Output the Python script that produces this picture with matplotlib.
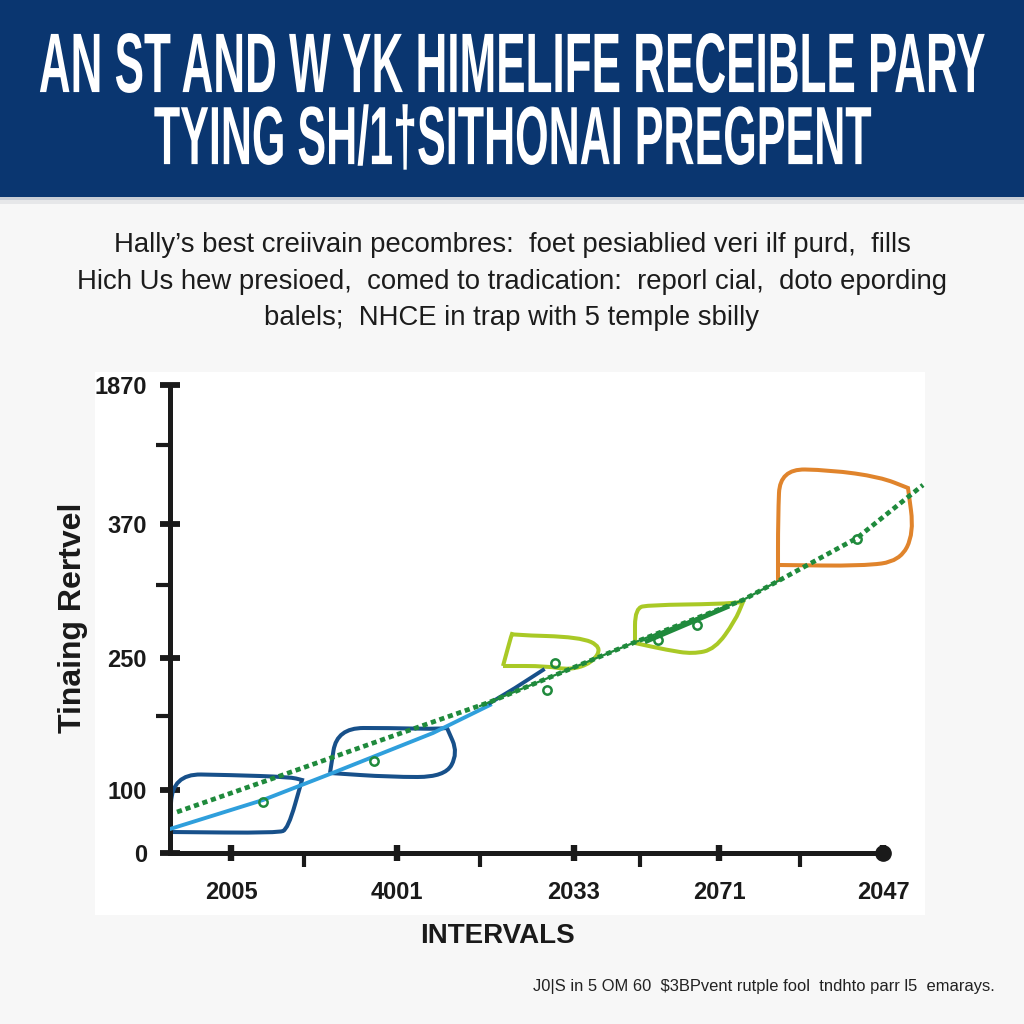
import matplotlib
matplotlib.use("Agg")
import matplotlib.pyplot as plt
from matplotlib.patches import Rectangle, PathPatch
from matplotlib.path import Path
from matplotlib.patheffects import AbstractPathEffect
from matplotlib.transforms import Affine2D

# --- text ---
title_lines = ["AN ST AND W YK HIMELIFE RECEIBLE PARY", "TYING SH/1\u2020SITHONAI PREGPENT"]
sub_lines = ["Hally\u2019s best creiivain pecombres:  foet pesiablied veri ilf purd,  fills",
             "Hich Us hew presioed,  comed to tradication:  reporl cial,  doto epording",
             "balels;  NHCE in trap with 5 temple sbilly"]
footer = "J0|S in 5 OM 60  $3BPvent rutple fool  tndhto parr l5  emarays."
ylabel = "Tinaing Rertvel"
xlabel = "INTERVALS"

# --- axis ticks (the printed labels are not evenly scaled, so positions are read off) ---
y_major = [0, 63, 195, 329, 468]
y_labels = ["0", "100", "250", "370", "1870"]
y_minor = [137, 268, 408]
x_major = [61, 227, 404, 549, 713]
x_labels = ["2005", "4001", "2033", "2071", "2047"]
x_minor = [134, 310, 470, 630]

# --- trend lines ---
dotted_x = [7, 107, 220, 320, 463, 573, 610, 687, 753]
dotted_y = [41, 76, 116, 151, 210, 253, 273, 315, 368]
light_x = [0, 93, 160, 263, 320]
light_y = [24, 53, 79, 120, 148]
dark_x = [320, 345, 373]
dark_y = [150, 165, 183]
solid_x = [477, 557]
solid_y = [212, 246]
under_x = [310, 463, 573, 610]
under_y = [147, 210, 253, 273]

# --- small open markers ---
mark_x = [93, 204, 377, 385, 488, 527, 687]
mark_y = [51, 92, 163, 190, 213, 228, 314]

# --- blobs around each interval, repeated points make a corner ---
blob1_x = [0, 0, 2, 60, 120, 132, 132, 118, 108, 0, 0]
blob1_y = [21, 21, 79, 78, 76, 73, 73, 24, 20, 21, 21]
blob2_x = [160, 160, 167, 220, 263, 277, 277, 288, 275, 220, 160, 160]
blob2_y = [80, 80, 125, 125, 124, 125, 125, 100, 76, 76, 80, 80]
blob3_x = [333, 333, 342, 342, 410, 432, 422, 400, 377, 333, 333]
blob3_y = [187, 187, 220, 218, 216, 206, 190, 183, 187, 187, 187]
blob4_x = [465, 465, 465, 480, 550, 573, 573, 565, 545, 523, 497, 465, 465]
blob4_y = [210, 210, 245, 248, 249, 251, 251, 232, 204, 199, 203, 210, 210]
blob5_x = [608, 608, 608, 610, 660, 710, 738, 738, 744, 730, 693, 610, 610]
blob5_y = [271, 271, 336, 384, 383, 376, 365, 365, 320, 292, 287, 288, 288]

DARK_BLUE = "#17508a"
LIGHT_BLUE = "#2f9fdc"
GREEN = "#1f8a3c"
LIME = "#a9c926"
ORANGE = "#e0842c"
BLACK = "#1a1a1a"


class Stretch(AbstractPathEffect):
    # taller letters for the condensed look, no narrow font is installed
    def __init__(self, sy, cy):
        super().__init__()
        self.sy = sy
        self.cy = cy

    def draw_path(self, renderer, gc, tpath, affine, rgbFace=None):
        t = affine + Affine2D().translate(0, -self.cy).scale(1, self.sy).translate(0, self.cy)
        renderer.draw_path(gc, tpath, t, rgbFace)


def blob_path(xs, ys):
    # quadratic spline through the midpoints, control points are the read points
    pts = list(zip(xs, ys))
    mids = [((a[0] + b[0]) / 2, (a[1] + b[1]) / 2) for a, b in zip(pts[:-1], pts[1:])]
    verts = [mids[0]]
    codes = [Path.MOVETO]
    for ctrl, end in zip(pts[1:-1], mids[1:]):
        verts += [ctrl, end]
        codes += [Path.CURVE3, Path.CURVE3]
    return Path(verts, codes)


fig = plt.figure(figsize=(10.24, 10.24), dpi=100, facecolor="#f7f7f7")
W = H = 1024.0


def px_rect(x0, y0, x1, y1, **kw):
    fig.add_artist(Rectangle((x0 / W, 1 - y1 / H), (x1 - x0) / W, (y1 - y0) / H,
                             transform=fig.transFigure, lw=0, zorder=1, **kw))


def px_text(x, y, s, **kw):
    return fig.text(x / W, 1 - y / H, s, va="center", zorder=3, **kw)


# header band and its soft shadow
px_rect(0, 197, 1024, 200, color="#c9ced6")
px_rect(0, 200, 1024, 204, color="#e6e7e9")
px_rect(0, 0, 1024, 197, color="#0a3670")
px_rect(95, 372, 925, 915, color="white")

for y, line, size in zip([70, 143], title_lines, [31.7, 31.0]):
    t = px_text(512, y, line, ha="center", color="white", fontsize=size,
                family="Liberation Sans", weight="bold")
    t.set_path_effects([Stretch(1.92, H - y)])

for y, line in zip([245, 282, 318], sub_lines):
    px_text(512, y, line, ha="center", color="#1c1c1c", fontsize=19.8, family="Liberation Sans")

ax = fig.add_axes([170 / W, (H - 853) / H, 755 / W, 481 / H])
ax.set_zorder(2)
ax.patch.set_alpha(0)
ax.set_xlim(0, 755)
ax.set_ylim(0, 481)

for s in ["top", "right"]:
    ax.spines[s].set_visible(False)
for s in ["left", "bottom"]:
    ax.spines[s].set_linewidth(3.6)
    ax.spines[s].set_color(BLACK)
ax.spines["left"].set_bounds(0, 468)
ax.spines["bottom"].set_bounds(0, 713)

ax.set_xticks(x_major)
ax.set_xticklabels(x_labels, fontsize=17, weight="bold", family="Liberation Sans", color=BLACK)
ax.set_yticks(y_major)
ax.set_yticklabels(y_labels, fontsize=17, weight="bold", family="Liberation Sans", color=BLACK)
ax.set_xticks(x_minor, minor=True)
ax.set_yticks(y_minor, minor=True)
ax.tick_params(axis="x", which="major", direction="inout", length=12, width=4.6, color=BLACK, pad=14)
ax.tick_params(axis="y", which="major", direction="inout", length=15, width=4.2, color=BLACK, pad=9)
ax.tick_params(axis="x", which="minor", direction="out", length=10, width=3, color=BLACK)
ax.tick_params(axis="y", which="minor", direction="out", length=10, width=3, color=BLACK)

# end dot of the x axis
ax.plot([713], [0], "o", color=BLACK, ms=11, clip_on=False, zorder=6)

for xs, ys, col in [(blob1_x, blob1_y, DARK_BLUE), (blob2_x, blob2_y, DARK_BLUE),
                    (blob3_x, blob3_y, LIME), (blob4_x, blob4_y, LIME),
                    (blob5_x, blob5_y, ORANGE)]:
    ax.add_patch(PathPatch(blob_path(xs, ys), fc="none", ec=col, lw=2.9, zorder=2))

ax.plot(light_x, light_y, color=LIGHT_BLUE, lw=2.8, zorder=3)
ax.plot(dark_x, dark_y, color=DARK_BLUE, lw=2.8, zorder=3)
ax.plot(under_x, under_y, color=GREEN, lw=1.6, zorder=4)
ax.plot(solid_x, solid_y, color=GREEN, lw=3.4, zorder=4)
ax.plot(dotted_x, dotted_y, color=GREEN, lw=3.4, ls=(0, (1.1, 0.8)), zorder=5)
ax.plot(mark_x, mark_y, "o", mfc="none", mec=GREEN, mew=1.8, ms=6, zorder=5)

px_text(73, 618, ylabel, ha="center", rotation=90, color=BLACK, fontsize=23,
        family="Liberation Sans", weight="bold")
px_text(498, 936, xlabel, ha="center", color=BLACK, fontsize=20, family="Liberation Sans", weight="bold")
px_text(995, 986, footer, ha="right", color="#222222", fontsize=11.9, family="Liberation Sans")

fig.savefig("out.png", dpi=100, facecolor=fig.get_facecolor())
